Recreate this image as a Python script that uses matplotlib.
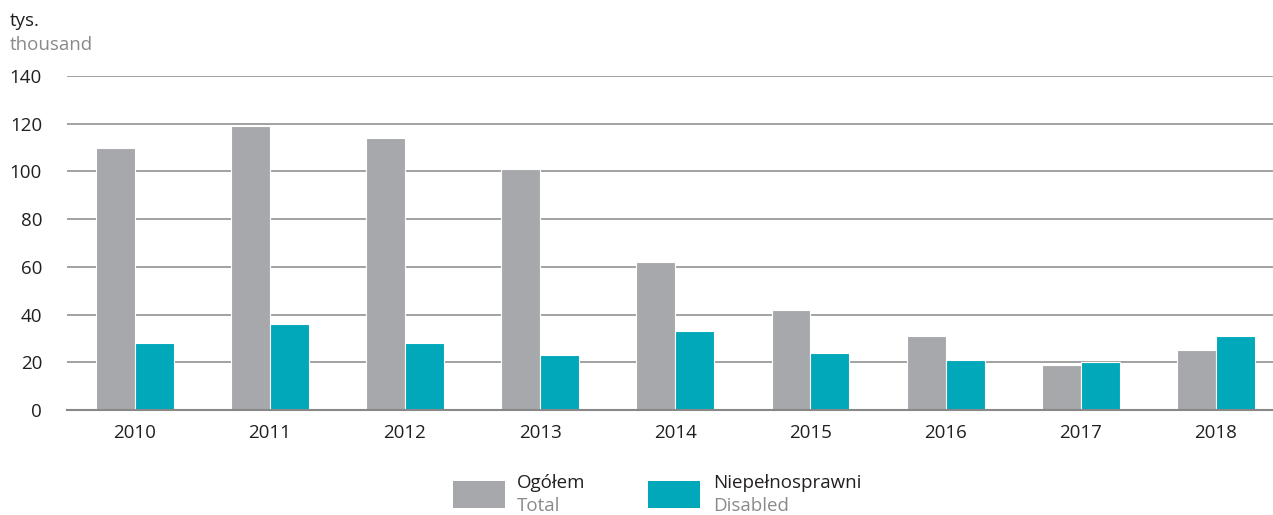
import matplotlib
matplotlib.use("Agg")
import matplotlib.pyplot as plt
from matplotlib.patches import Rectangle
import numpy as np

plt.rcParams['font.family'] = ['Open Sans', 'DejaVu Sans']

years = ["2010", "2011", "2012", "2013", "2014", "2015", "2016", "2017", "2018"]
total = [110, 119, 114, 101, 62, 42, 31, 19, 25]
disabled = [28, 36, 28, 23, 33, 24, 21, 20, 31]
yticks = [0, 20, 40, 60, 80, 100, 120, 140]

GRAY = "#A7A8AB"
TEAL = "#00A8BA"
GRID = "#9A9A9A"
TXT = "#231F20"
SUB = "#8A8A8A"
FS = 13.5

W, H = 1273, 515
fig = plt.figure(figsize=(W / 100, H / 100), dpi=100)
ax = fig.add_axes([67 / W, 1 - 410 / H, (W - 67) / W, (410 - 76) / H])

x = np.arange(len(years))
bw = 0.288
ax.bar(x - bw / 2, total, width=bw, color=GRAY, edgecolor="white", linewidth=0.8, zorder=3)
ax.bar(x + bw / 2, disabled, width=bw, color=TEAL, edgecolor="white", linewidth=0.8, zorder=3)

ax.set_xlim(-0.5, len(years) - 1 + (W - 1216) / 135.1)
ax.set_ylim(0, 140)
ax.set_yticks(yticks)
ax.set_yticklabels([str(v) for v in yticks])
ax.set_xticks(x)
ax.set_xticklabels(years)
ax.yaxis.grid(True, color=GRID, linewidth=1.3, zorder=0)
ax.set_axisbelow(True)
for s in ["top", "right", "left"]:
    ax.spines[s].set_visible(False)
ax.spines["bottom"].set_color("#888888")
ax.spines["bottom"].set_linewidth(1.5)
ax.spines["bottom"].set_zorder(4)
ax.tick_params(axis="both", length=0, labelsize=FS, colors=TXT)
ax.tick_params(axis="y", pad=18)
ax.tick_params(axis="x", pad=10)

fig.text(10 / W, 1 - 21 / H, "tys.", fontsize=FS, color=TXT, va="center", ha="left")
fig.text(10 / W, 1 - 45 / H, "thousand", fontsize=FS, color=SUB, va="center", ha="left")

# legend
fig.patches.append(Rectangle((453 / W, 1 - 508 / H), 52 / W, 27 / H, transform=fig.transFigure,
                             facecolor=GRAY, edgecolor="none"))
fig.text(517 / W, 1 - 483 / H, "Ogółem", fontsize=FS, color=TXT, va="center", ha="left")
fig.text(517 / W, 1 - 506 / H, "Total", fontsize=FS, color=SUB, va="center", ha="left")
fig.patches.append(Rectangle((648 / W, 1 - 508 / H), 52 / W, 27 / H, transform=fig.transFigure,
                             facecolor=TEAL, edgecolor="none"))
fig.text(713 / W, 1 - 483 / H, "Niepełnosprawni", fontsize=FS, color=TXT, va="center", ha="left")
fig.text(713 / W, 1 - 506 / H, "Disabled", fontsize=FS, color=SUB, va="center", ha="left")

fig.savefig("out.png", dpi=100)
